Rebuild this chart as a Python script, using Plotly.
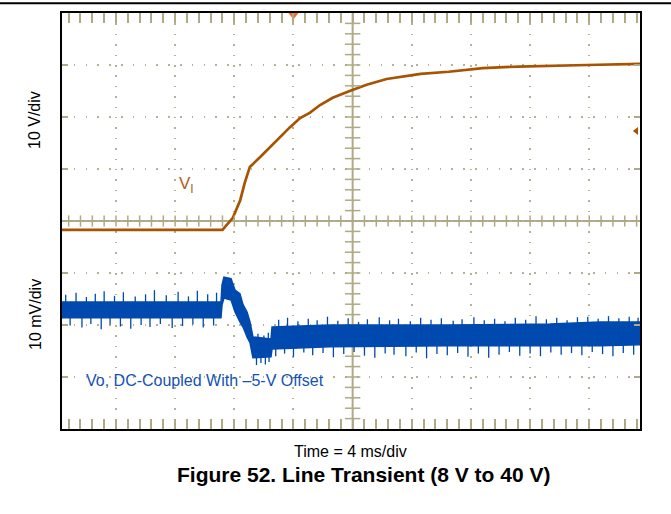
import numpy as np
import plotly.graph_objects as go

# ---------------- data ----------------
# V_I : time (ms), volts
vi_t = [0.35, 11.2, 11.9, 12.4, 12.7, 13.05, 13.75, 14.4, 15.1, 15.75, 16.45, 17.1,
        17.8, 18.65, 19.8, 20.95, 22.3, 24.6, 26.5, 28.8, 31.2, 33.5, 35.85, 39.43]
vi_v = [8.3, 8.3, 10.6, 14.0, 17.3, 20.4, 22.3, 24.2, 26.2, 28.0, 29.8, 30.8,
        32.3, 33.7, 35.0, 36.2, 37.3, 38.3, 38.7, 39.4, 39.7, 39.9, 40.0, 40.2]

# Vo : dense noise band envelope, time (ms), mV (deviation, -5 V offset)
vo_t = [0.35, 11.10, 11.17, 11.30, 11.78, 12.05, 12.38, 12.59, 12.86, 13.06, 13.26,
        14.48, 14.55, 18.47, 26.58, 33.34, 36.72, 39.43]
vo_hi = [1.5, 1.5, 4.8, 6.3, 6.0, 3.8, 3.1, 1.0, -0.4, -2.3, -5.2,
         -5.6, -3.3, -2.9, -2.9, -2.7, -2.3, -2.3]
vo_lo = [-1.5, -1.5, 1.0, 2.3, 1.9, -0.4, -2.3, -3.3, -5.2, -6.3, -9.2,
         -9.0, -7.5, -7.1, -6.9, -6.9, -6.9, -6.7]

# Vo : noise spikes (time ms, tip mV)
up_t = [0.6, 1.3, 2.0, 2.6, 3.2, 3.9, 4.5, 5.3, 6.0, 6.6, 7.4, 8.2, 8.9, 9.5, 10.2, 10.8,
        13.6, 14.0, 14.3,
        15.0, 15.6, 16.3, 17.0, 17.6, 18.3, 19.0, 19.7, 20.4, 21.0, 21.8, 22.5, 23.1, 23.9,
        24.6, 25.3, 26.0, 26.8, 27.4, 28.2, 28.9, 29.6, 30.3, 31.0, 31.7, 32.4, 33.1, 33.8,
        34.5, 35.2, 35.9, 36.6, 37.3, 38.0, 38.7, 39.3]
up_v = [2.9, 3.3, 2.5, 3.1, 3.6, 2.7, 3.4, 2.6, 3.0, 3.8, 2.8, 3.5, 2.6, 3.7, 3.0, 3.3,
        -4.6, -4.9, -4.4,
        -1.9, -1.5, -2.2, -1.7, -2.0, -1.3, -2.1, -1.6, -2.3, -1.8, -1.4, -2.0, -1.7, -2.2,
        -1.5, -1.9, -1.6, -2.1, -1.8, -1.4, -2.0, -1.7, -2.2, -1.5, -1.9, -1.2, -1.8, -1.5,
        -2.0, -1.4, -1.3, -1.7, -1.2, -1.6, -1.3, -1.5]
dn_t = [0.9, 1.7, 2.3, 3.0, 3.6, 4.3, 5.0, 5.7, 6.3, 7.0, 7.8, 8.5, 9.2, 9.9, 10.6,
        13.5, 13.8, 14.1, 14.35,
        14.8, 15.4, 16.0, 16.7, 17.3, 18.0, 18.7, 19.4, 20.1, 20.8, 21.5, 22.2, 22.8, 23.6,
        24.3, 25.0, 25.7, 26.4, 27.1, 27.8, 28.5, 29.2, 29.9, 30.6, 31.3, 32.0, 32.7, 33.4,
        34.1, 34.8, 35.5, 36.2, 36.9, 37.6, 38.3, 39.0]
dn_v = [-3.0, -3.4, -2.7, -3.7, -2.8, -3.2, -3.6, -2.9, -3.3, -2.7, -3.5, -3.1, -2.8, -3.4, -3.0,
        -10.6, -10.2, -10.5, -10.0,
        -8.9, -8.4, -9.0, -8.2, -8.7, -8.3, -9.1, -8.5, -8.1, -8.8, -9.2, -8.4, -8.6, -8.9,
        -8.2, -9.3, -8.5, -8.7, -8.3, -9.0, -8.4, -9.2, -8.6, -8.1, -8.8, -8.4, -8.9, -8.2,
        -8.6, -8.3, -8.7, -8.1, -8.5, -8.9, -8.3, -8.6]

trig_t = 16.0      # trigger position (ms)
trig_v = 27.3      # trigger level (V)

# axis settings
t_range = [0.35, 39.43]
v_range = [-30, 50]
mv_range = [-22.9, 57.1]

# ---------------- styling ----------------
C_VI = "#a85300"
C_VO = "#0049ae"
C_GRID = "#b8b197"
C_AX = "#b0a985"
FONT = "Liberation Sans, Arial, sans-serif"

fig = go.Figure()

# spikes
sx, sy = [], []
for t, v in zip(up_t, up_v):
    sx += [t, t, None]
    sy += [v, v - 4, None]
for t, v in zip(dn_t, dn_v):
    sx += [t, t, None]
    sy += [v, v + 4, None]

fig.add_trace(go.Scatter(x=vo_t + vo_t[::-1], y=vo_hi + vo_lo[::-1], yaxis="y2",
                         mode="lines", fill="toself", fillcolor=C_VO,
                         line=dict(color=C_VO, width=1.5), hoverinfo="skip", showlegend=False))
fig.add_trace(go.Scatter(x=sx, y=sy, yaxis="y2", mode="lines",
                         line=dict(color=C_VO, width=1.3), hoverinfo="skip", showlegend=False))

# V_I
fig.add_trace(go.Scatter(x=vi_t, y=vi_v, mode="lines", line=dict(color=C_VI, width=2.7),
                         showlegend=False))

# centre crosshair ticks
tx = np.arange(0.8, 39.3, 0.8)
fig.add_trace(go.Scatter(x=tx, y=[10] * len(tx), mode="markers",
                         marker=dict(symbol="line-ns-open", size=8, color=C_AX,
                                     line=dict(color=C_AX, width=1.5)),
                         hoverinfo="skip", showlegend=False))
vy = np.arange(-28, 50, 2)
fig.add_trace(go.Scatter(x=[20] * len(vy), y=vy, mode="markers",
                         marker=dict(symbol="line-ew-open", size=11, color=C_AX,
                                     line=dict(color=C_AX, width=1.5)),
                         hoverinfo="skip", showlegend=False))

# trigger markers
fig.add_trace(go.Scatter(x=[trig_t], y=[v_range[1] - 0.2], mode="markers", cliponaxis=False,
                         marker=dict(symbol="triangle-down", size=11, color="#f26b2a"),
                         hoverinfo="skip", showlegend=False))
fig.add_trace(go.Scatter(x=[t_range[1] - 0.25], y=[trig_v], mode="markers", cliponaxis=False,
                         marker=dict(symbol="triangle-left", size=7, color=C_VI),
                         hoverinfo="skip", showlegend=False))

# centre lines
fig.add_shape(type="line", xref="x", yref="paper", x0=20, x1=20, y0=0, y1=1,
              line=dict(color=C_AX, width=2), layer="below")
fig.add_shape(type="line", xref="paper", yref="y", x0=0, x1=1, y0=10, y1=10,
              line=dict(color=C_AX, width=2), layer="below")
# top black rule
fig.add_shape(type="line", xref="paper", yref="paper", x0=-62 / 578, x1=609 / 578,
              y0=1 + 9.7 / 416, y1=1 + 9.7 / 416, line=dict(color="black", width=2))

ann = dict(showarrow=False, xanchor="center", yanchor="middle")
fig.update_layout(
    width=671, height=514, autosize=False,
    margin=dict(l=62, r=31, t=13, b=85),
    paper_bgcolor="white", plot_bgcolor="white",
    font=dict(family=FONT, color="black"),
    xaxis=dict(range=t_range, tick0=0, dtick=4, showticklabels=False,
               showgrid=True, gridcolor=C_GRID, gridwidth=1.5, griddash="1.5px,8.9px",
               zeroline=False, showline=True, linecolor="black", linewidth=1.5,
               mirror="allticks", ticks="inside", ticklen=10, tickwidth=1.5, tickcolor=C_AX,
               minor=dict(ticks="inside", ticklen=5, dtick=0.8, tick0=0, tickwidth=1.5,
                          tickcolor=C_AX, showgrid=False)),
    yaxis=dict(range=v_range, tick0=0, dtick=10, showticklabels=False,
               showgrid=True, gridcolor=C_GRID, gridwidth=1.5, griddash="1.5px,10.3px",
               zeroline=False, showline=True, linecolor="black", linewidth=1.5,
               mirror="allticks", ticks="inside", ticklen=6, tickwidth=1.5, tickcolor=C_AX),
    yaxis2=dict(range=mv_range, overlaying="y", visible=False),
    annotations=[
        dict(text="10 V/div", xref="paper", yref="paper", x=-27 / 578, y=(429 - 120) / 416,
             textangle=-90, font=dict(size=16), **ann),
        dict(text="10 mV/div", xref="paper", yref="paper", x=-27 / 578, y=(429 - 315) / 416,
             textangle=-90, font=dict(size=16), **ann),
        dict(text="Time = 4 ms/div", xref="paper", yref="paper", x=(350 - 62) / 578,
             y=(429 - 451) / 416, font=dict(size=16), **ann),
        dict(text="<b>Figure 52. Line Transient (8 V to 40 V)</b>", xref="paper", yref="paper",
             x=(363 - 62) / 578, y=(429 - 474) / 416, font=dict(size=21), **ann),
        dict(text="V<sub>I</sub>", xref="x", yref="y", x=8.75, y=16.9,
             font=dict(size=17, color="#b0601a"), **ann),
        dict(text="Vo, DC-Coupled With \u20135-V Offset", xref="x", yref="y2", x=10.0, y=-13.5,
             font=dict(size=16, color="#1552b3"), **ann),
    ],
)

fig.write_html("out.html", config={"displayModeBar": False},
               post_script="document.body.style.margin='0';document.body.style.padding='0';"
                           "document.body.style.overflow='hidden';"
                           "document.documentElement.style.overflow='hidden';")
